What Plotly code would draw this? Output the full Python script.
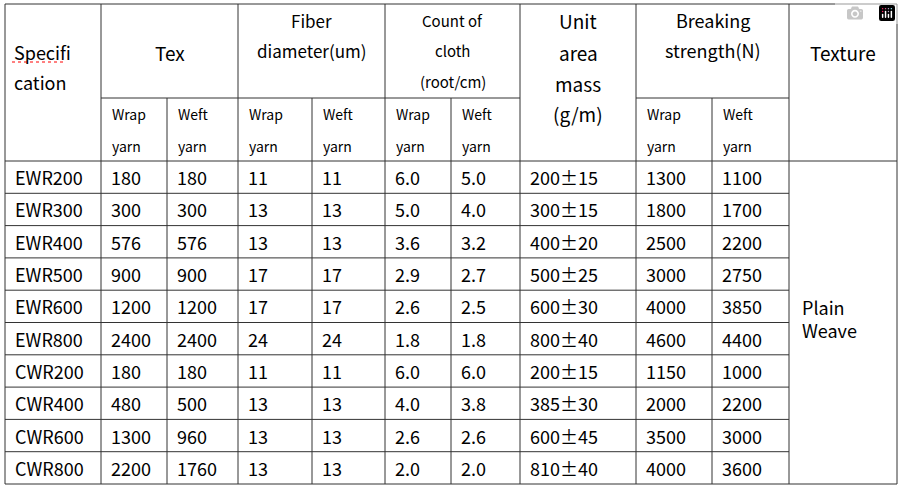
import plotly.graph_objects as go

# table values
specs = ["EWR200", "EWR300", "EWR400", "EWR500", "EWR600", "EWR800",
         "CWR200", "CWR400", "CWR600", "CWR800"]
tex_wrap = ["180", "300", "576", "900", "1200", "2400", "180", "480", "1300", "2200"]
tex_weft = ["180", "300", "576", "900", "1200", "2400", "180", "500", "960", "1760"]
dia_wrap = ["11", "13", "13", "17", "17", "24", "11", "13", "13", "13"]
dia_weft = ["11", "13", "13", "17", "17", "24", "11", "13", "13", "13"]
count_wrap = ["6.0", "5.0", "3.6", "2.9", "2.6", "1.8", "6.0", "4.0", "2.6", "2.0"]
count_weft = ["5.0", "4.0", "3.2", "2.7", "2.5", "1.8", "6.0", "3.8", "2.6", "2.0"]
mass = ["200±15", "300±15", "400±20", "500±25", "600±30", "800±40",
        "200±15", "385±30", "600±45", "810±40"]
brk_wrap = ["1300", "1800", "2500", "3000", "4000", "4600", "1150", "2000", "3500", "4000"]
brk_weft = ["1100", "1700", "2200", "2750", "3850", "4400", "1000", "2200", "3000", "3600"]
texture = "Plain<br>Weave"

columns = [specs, tex_wrap, tex_weft, dia_wrap, dia_weft, count_wrap, count_weft,
           mass, brk_wrap, brk_weft]

# grid geometry (pixels)
col_x = [5, 101, 167, 238, 312, 385, 451, 520, 636, 712, 789, 897]
top, sub_top, head_bot, bottom = 4, 98, 161, 484
row_h = (bottom - head_bot) / len(specs)

FONT = "Noto Sans CJK SC, Liberation Mono, monospace"
LINE = dict(color="#333333", width=1)

fig = go.Figure()
shapes = []
annotations = []


def hline(x0, x1, y):
    shapes.append(dict(type="line", x0=x0, x1=x1, y0=y, y1=y, line=LINE))


def vline(x, y0, y1):
    shapes.append(dict(type="line", x0=x, x1=x, y0=y0, y1=y1, line=LINE))


def text(x, y, s, size=18, anchor="left"):
    annotations.append(dict(x=x, y=y, text=s, showarrow=False, xanchor=anchor,
                            yanchor="middle", align=anchor,
                            font=dict(family=FONT, size=size, color="black")))


# outer border and horizontal lines
hline(col_x[0], col_x[-1], top)
hline(col_x[0], col_x[-1], head_bot)
for i in range(1, len(specs) + 1):
    hline(col_x[0], col_x[-2], head_bot + i * row_h)
hline(col_x[-2], col_x[-1], bottom)
# sub-header line under grouped headers
for a, b in [(1, 3), (3, 5), (5, 7), (8, 10)]:
    hline(col_x[a], col_x[b], sub_top)

# vertical lines
for i, x in enumerate(col_x):
    if i in (2, 4, 6, 9):
        vline(x, sub_top, bottom)
    else:
        vline(x, top, bottom)

# header texts
text(12, 52, "Specifi")
text(12, 82, "cation")
shapes.append(dict(type="line", x0=12, x1=64, y0=62, y1=62,
                   line=dict(color="red", width=1, dash="dot")))
text((col_x[1] + col_x[3]) / 2, 52, "Tex", 19, "center")
text((col_x[3] + col_x[5]) / 2, 20, "Fiber", 17, "center")
text((col_x[3] + col_x[5]) / 2, 50, "diameter(um)", 17, "center")
text((col_x[5] + col_x[7]) / 2, 20, "Count of", 15, "center")
text((col_x[5] + col_x[7]) / 2, 50, "cloth", 15, "center")
text((col_x[5] + col_x[7]) / 2, 81, "(root/cm)", 15, "center")
for y, s in zip([20, 52, 83, 113], ["Unit", "area", "mass", "(g/m)"]):
    text((col_x[7] + col_x[8]) / 2, y, s, 19, "center")
text((col_x[8] + col_x[10]) / 2, 20, "Breaking", 18, "center")
text((col_x[8] + col_x[10]) / 2, 50, "strength(N)", 18, "center")
text((col_x[10] + col_x[11]) / 2, 52, "Texture", 19, "center")
for c in (1, 3, 5, 8):
    for k, lab in ((0, "Wrap"), (1, "Weft")):
        x = col_x[c + k] + 9
        text(x, 114, lab, 14)
        text(x, 146, "yarn", 14)

# data cells
for c, col in enumerate(columns):
    for r, v in enumerate(col):
        text(col_x[c] + 8, head_bot + (r + 0.5) * row_h, v, 18)
text(col_x[10] + 11, 318, texture, 18)

fig.update_layout(
    width=901, height=490, margin=dict(l=0, r=0, t=0, b=0),
    paper_bgcolor="white", plot_bgcolor="white",
    shapes=shapes, annotations=annotations, showlegend=False,
    xaxis=dict(range=[0, 901], visible=False, fixedrange=True),
    yaxis=dict(range=[490, 0], visible=False, fixedrange=True),
)

fig.write_html("out.html")

# drop the default page margin so the table sits at the window's corner
with open("out.html", encoding="utf-8") as f:
    html = f.read()
html = html.replace("<head>", "<head><style>body{margin:0;overflow:hidden}</style>", 1)
with open("out.html", "w", encoding="utf-8") as f:
    f.write(html)
